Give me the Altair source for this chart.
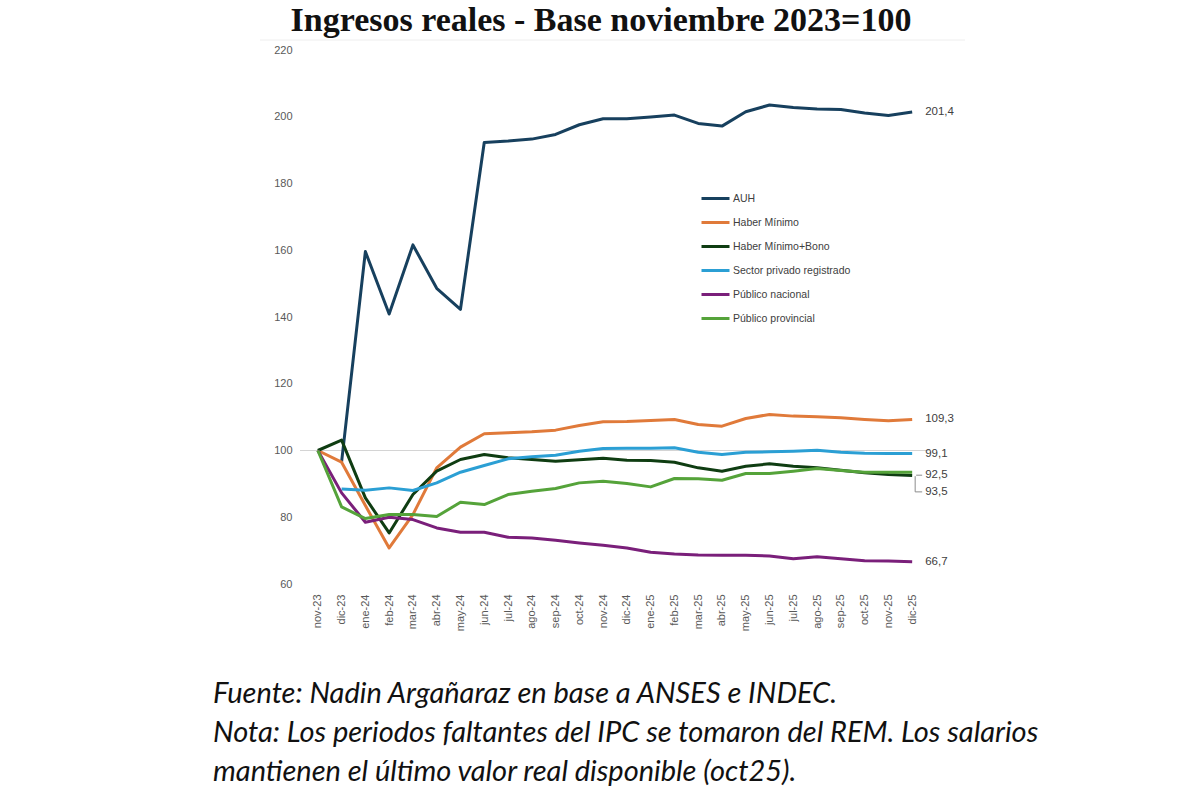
import altair as alt
import pandas as pd

months = ["nov-23", "dic-23", "ene-24", "feb-24", "mar-24", "abr-24", "may-24", "jun-24",
          "jul-24", "ago-24", "sep-24", "oct-24", "nov-24", "dic-24", "ene-25", "feb-25",
          "mar-25", "abr-25", "may-25", "jun-25", "jul-25", "ago-25", "sep-25", "oct-25",
          "nov-25", "dic-25"]

series_names = ["AUH", "Haber Mínimo", "Haber Mínimo+Bono", "Sector privado registrado",
                "Público nacional", "Público provincial"]
series_colors = ["#17405e", "#e07a3a", "#0f3d12", "#2b9fd4", "#7a1f7a", "#55a33a"]

auh = [None, 96.6, 159.6, 140.9, 161.6, 148.6, 142.3, 192.3, 192.7, 193.3, 194.7, 197.6,
       199.4, 199.4, 199.9, 200.5, 198.0, 197.2, 201.5, 203.5, 202.8, 202.3, 202.2, 201.1,
       200.4, 201.4]
haber_min = [100, 96.5, 83.5, 70.8, 80.8, 94.8, 101.0, 105.0, 105.3, 105.6, 106.1, 107.5,
             108.6, 108.7, 109.0, 109.3, 107.8, 107.3, 109.6, 110.8, 110.3, 110.1, 109.8,
             109.3, 108.9, 109.3]
haber_bono = [100, 103.1, 85.8, 75.3, 86.8, 93.8, 97.3, 98.8, 97.8, 97.3, 96.8, 97.2,
              97.7, 97.1, 97.0, 96.5, 94.8, 93.8, 95.3, 96.0, 95.3, 94.8, 94.1, 93.3,
              92.8, 92.5]
privado = [None, 88.5, 88.1, 88.8, 88.0, 90.3, 93.5, 95.5, 97.5, 98.1, 98.6, 99.8,
           100.6, 100.7, 100.7, 100.8, 99.5, 98.8, 99.5, 99.6, 99.8, 100.1, 99.5, 99.2,
           99.1, 99.1]
nacional = [100, 87.3, 78.5, 80.0, 79.3, 76.8, 75.5, 75.5, 74.0, 73.8, 73.1, 72.3,
            71.6, 70.8, 69.5, 69.0, 68.7, 68.6, 68.6, 68.4, 67.6, 68.2, 67.6, 67.0,
            66.9, 66.7]
provincial = [100, 83.1, 79.6, 80.8, 80.8, 80.2, 84.5, 83.8, 86.8, 87.8, 88.6, 90.3,
              90.8, 90.1, 89.1, 91.6, 91.5, 91.1, 93.1, 93.1, 93.8, 94.6, 94.0, 93.5,
              93.5, 93.5]

end_labels = ["201,4", "109,3", "99,1", "92,5", "93,5", "66,7"]
end_label_values = [201.4, 109.3, 99.0, 92.6, 87.6, 66.7]

y_ticks = [60, 80, 100, 120, 140, 160, 180, 200, 220]

title_text = "Ingresos reales - Base noviembre 2023=100"
foot_lines = ["Fuente: Nadin Argañaraz en base a ANSES e INDEC.",
              "Nota: Los periodos faltantes del IPC se tomaron del REM. Los salarios",
              "mantienen el último valor real disponible (oct25)."]

all_series = [auh, haber_min, haber_bono, privado, nacional, provincial]
rows = []
for name, vals in zip(series_names, all_series):
    for m, v in zip(months, vals):
        if v is not None:
            rows.append({"mes": m, "serie": name, "valor": v})
df = pd.DataFrame(rows)

lab_df = pd.DataFrame({"mes": [months[-1]] * len(end_labels),
                       "txt": end_labels, "valor": end_label_values})

W, H = 630, 534
FONT = "Liberation Sans"

x_enc = alt.X("mes:O", sort=months,
              scale=alt.Scale(type="point", padding=0.75, domain=months),
              axis=alt.Axis(title=None, labelAngle=-90, ticks=False, domain=False,
                            labelFont=FONT, labelFontSize=11, labelColor="#595959",
                            labelPadding=10, grid=False))
y_scale = alt.Scale(domain=[60, 220], nice=False, zero=False)
y_enc = alt.Y("valor:Q", scale=y_scale,
              axis=alt.Axis(title=None, values=y_ticks, ticks=False, domain=False,
                            grid=False, labelFont=FONT, labelFontSize=11,
                            labelColor="#595959", labelPadding=8))

base = alt.Chart(df)

ref = alt.Chart(pd.DataFrame({"v": [100]})).mark_rule(
    color="#d4d4d4", strokeWidth=1.2).encode(y=alt.Y("v:Q", scale=y_scale))

lines = base.mark_line(strokeWidth=3, strokeJoin="round").encode(
    x=x_enc, y=y_enc,
    color=alt.Color("serie:N",
                    scale=alt.Scale(domain=series_names, range=series_colors),
                    legend=alt.Legend(title=None, orient="none", legendX=400, legendY=133,
                                      symbolType="stroke", symbolSize=784,
                                      symbolStrokeWidth=3, labelFont=FONT,
                                      labelFontSize=10.5, labelColor="#404040",
                                      rowPadding=2, labelOffset=2)),
    order=alt.Order("serie:N", sort="ascending"),
)

labels = alt.Chart(lab_df).mark_text(
    align="left", baseline="middle", dx=13, font=FONT, fontSize=11.5, color="#404040"
).encode(x=alt.X("mes:O", sort=months), y=alt.Y("valor:Q", scale=y_scale), text="txt:N")

# leader lines for the two close labels
lead1 = alt.Chart(pd.DataFrame({"mes": [months[-1]], "a": [92.6]})).mark_rule(
    color="#8c8c8c", strokeWidth=1, xOffset=4, x2Offset=10
).encode(x=alt.X("mes:O", sort=months), x2="mes:O", y=alt.Y("a:Q", scale=y_scale))
lead2 = alt.Chart(pd.DataFrame({"mes": [months[-1]], "a": [92.3], "b": [87.6]})).mark_rule(
    color="#8c8c8c", strokeWidth=1, xOffset=3
).encode(x=alt.X("mes:O", sort=months), y=alt.Y("a:Q", scale=y_scale), y2="b:Q")
lead3 = alt.Chart(pd.DataFrame({"mes": [months[-1]], "a": [87.6]})).mark_rule(
    color="#8c8c8c", strokeWidth=1, xOffset=3, x2Offset=10
).encode(x=alt.X("mes:O", sort=months), x2="mes:O", y=alt.Y("a:Q", scale=y_scale))

one = pd.DataFrame({"k": [0]})
title = alt.Chart(one).mark_text(
    text=title_text, font="Liberation Serif", fontWeight="bold", fontSize=34,
    color="#111111", align="center", baseline="alphabetic"
).encode(x=alt.value(301), y=alt.value(-19))

sep_line = alt.Chart(one).mark_rule(color="#eeeeee", strokeWidth=1).encode(
    x=alt.value(-40), x2=alt.value(665), y=alt.value(-10))

foot = alt.Chart(one).mark_text(
    text=foot_lines, font="Lato", fontStyle="italic", fontSize=29,
    color="#111111", align="left", baseline="alphabetic", lineHeight=39
).encode(x=alt.value(-87), y=alt.value(653))

chart = alt.layer(sep_line, ref, lines, labels, lead1, lead2, lead3, title, foot).properties(
    width=W, height=H,
    autosize=alt.AutoSizeParams(type="none"),
    padding={"left": 300, "top": 50, "right": 270, "bottom": 216},
).configure_view(stroke=None)

chart.save("out.html", embed_options={"renderer": "svg", "actions": False})
